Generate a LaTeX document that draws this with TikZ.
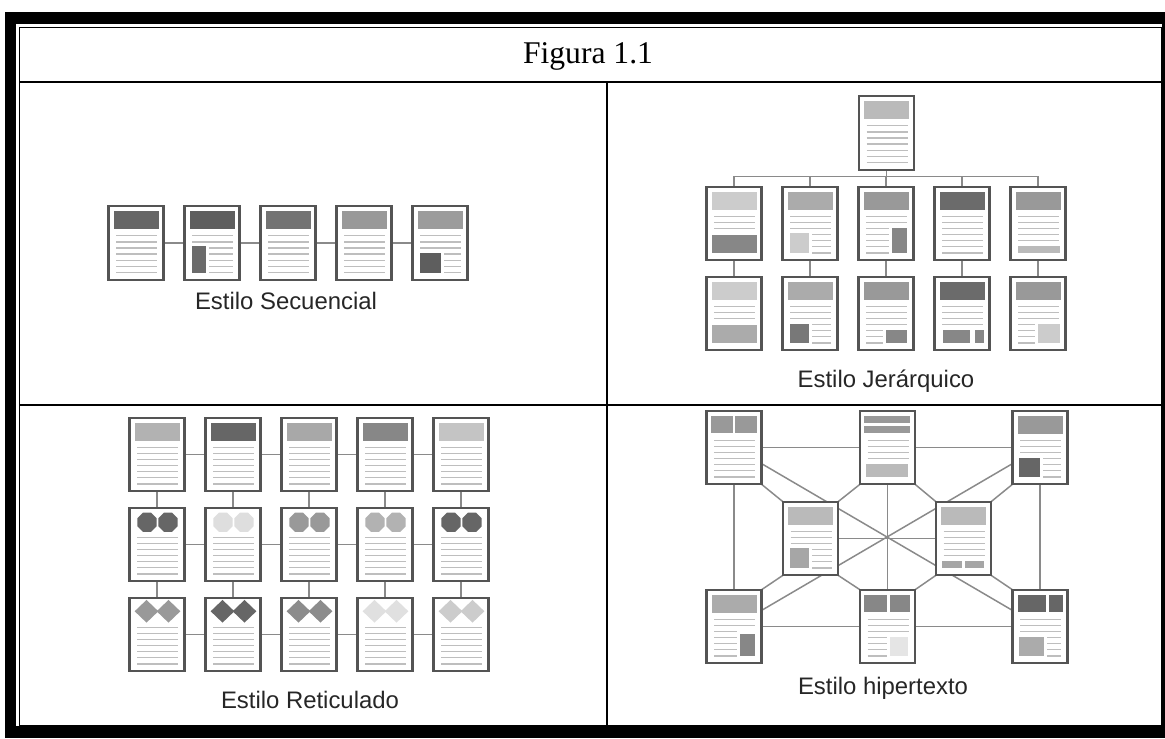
\documentclass[tikz,border=0pt]{standalone}
\usepackage{fontspec}
\setmainfont{Liberation Serif}
\setsansfont{Liberation Sans}
\usetikzlibrary{
    shapes.geometric,
    calc,
    backgrounds
}
\definecolor{colborde}{HTML}{545454}
\definecolor{colrenglon}{HTML}{BEBEBE}
\definecolor{colenlace}{HTML}{8A8A8A}
\tikzset{
    % Page sheet
    pagina/.style={
        rectangle,
        draw=colborde,
        fill=white,
        line width=1.3pt,
        minimum width=1.1cm,
        minimum height=1.47cm,
        inner sep=0pt,
        outer sep=0pt
    },
    % Text line inside a sheet
    renglon/.style={
        draw=colrenglon,
        line width=0.75pt
    },
    % Link between sheets
    enlace/.style={
        draw=colenlace,
        line width=0.85pt
    },
    % Shapes on the grid sheets
    octo/.style={
        regular polygon,
        regular polygon sides=8,
        minimum size=0.42cm,
        inner sep=0pt
    },
    rombo/.style={
        diamond,
        minimum width=0.48cm,
        minimum height=0.46cm,
        inner sep=0pt
    },
    % Table rules
    tabla/.style={
        draw=black,
        line width=1.1pt
    },
    % Texts
    titulo/.style={
        font=\rmfamily\fontsize{18}{22}\selectfont,
        anchor=base
    },
    rotulo/.style={
        font=\sffamily\fontsize{13.6}{16}\selectfont,
        text=black!85,
        anchor=base
    }
}
% sheet: name, position, header tone (or none)
\newcommand{\pagina}[3]{%
    \node[pagina] (#1) at (#2) {};
    \begin{scope}[shift={(#1.north west)}]
        \path[fill=#3] (5,5) rectangle (50,23);
        \foreach \k in {0,...,6}
            \draw[renglon] (7.5,{29.5+6.1*\k}) -- (48.5,{29.5+6.1*\k});
    \end{scope}}
% plain patch: sheet, x1, y1, x2, y2, tone
\newcommand{\mancha}[6]{%
    \begin{scope}[shift={(#1.north west)}]
        \fill[#6] (#2,#3) rectangle (#4,#5);
    \end{scope}}
% picture block, clears the lines round it first
\newcommand{\bloque}[6]{%
    \begin{scope}[shift={(#1.north west)}]
        \fill[white] (#2-3,#3-2.5) rectangle (#4+3,#5+2.5);
        \fill[#6] (#2,#3) rectangle (#4,#5);
    \end{scope}}
\newcommand{\octos}[2]{%
    \begin{scope}[shift={(#1.north west)}]
        \node[octo, fill=#2] at (17.5,14.5) {};
        \node[octo, fill=#2] at (38.5,14.5) {};
    \end{scope}}
\newcommand{\rombos}[2]{%
    \begin{scope}[shift={(#1.north west)}]
        \node[rombo, fill=#2] at (17,13.5) {};
        \node[rombo, fill=#2] at (39,13.5) {};
    \end{scope}}

\begin{document}
\begin{tikzpicture}[x=0.02cm, y=-0.02cm]
    \useasboundingbox (0,0) rectangle (1165,738);

    % Frame
    \fill[black] (5,12) rectangle (16,738);
    \fill[black] (5,12) rectangle (1165,24);
    \fill[black] (5,726) rectangle (1165,738);
    \draw[black, line width=1.7pt] (1163.5,24) -- (1163.5,726);
    \draw[tabla, line width=0.85pt] (19.3,27.3) rectangle (1162,726);
    \draw[tabla] (19,82) -- (1162,82);
    \draw[tabla] (19,405) -- (1162,405);
    \draw[tabla] (607,82) -- (607,726);
    \node[titulo] (titulo) at (588,63) {Figura 1.1};

    % Secuencial
    \pagina{s1}{136,243}{black!60}
    \pagina{s2}{212,243}{black!63}
    \bloque{s2}{7}{40}{21}{67}{black!58}
    \pagina{s3}{288,243}{black!55}
    \pagina{s4}{364,243}{black!40}
    \pagina{s5}{440,243}{black!39}
    \bloque{s5}{7}{47}{28}{67}{black!63}
    \begin{scope}[on background layer]
        \foreach \a/\b in {s1/s2, s2/s3, s3/s4, s4/s5}
            \draw[enlace] (\a) -- (\b);
    \end{scope}
    \node[rotulo] (lsec) at (286,309) {Estilo Secuencial};

    % Jerarquico
    \pagina{j0}{886.5,133}{black!27}
    \foreach \c/\tono in {1/black!20, 2/black!33, 3/black!40, 4/black!58, 5/black!40}
        \pagina{j1\c}{{734+76*(\c-1)},223.5}{\tono};
    \foreach \c/\tono in {1/black!20, 2/black!33, 3/black!40, 4/black!58, 5/black!40}
        \pagina{j2\c}{{734+76*(\c-1)},313.5}{\tono};
    \bloque{j11}{5}{48}{50}{66}{black!47}
    \bloque{j12}{7}{46}{26}{66}{black!20}
    \bloque{j13}{33}{41}{48}{66}{black!47}
    \bloque{j15}{7}{59}{49}{66}{black!27}
    \bloque{j21}{5}{48}{50}{66}{black!33}
    \bloque{j22}{7}{47}{26}{66}{black!53}
    \bloque{j23}{27}{53}{48}{66}{black!47}
    \bloque{j24}{8}{53}{35}{66}{black!47}
    \bloque{j24}{40}{53}{49}{66}{black!47}
    \bloque{j25}{27}{47}{49}{66}{black!20}
    \begin{scope}[on background layer]
        \foreach \c in {1,...,5} {
            \draw[enlace] (j0.south) -- ++(0,7) -| (j1\c.north);
            \draw[enlace] (j1\c) -- (j2\c);
        }
    \end{scope}
    \node[rotulo] (ljer) at (886,387) {Estilo Jerárquico};

    % Reticulado
    \foreach \c/\tono in {1/black!30, 2/black!60, 3/black!34, 4/black!47, 5/black!23}
        \pagina{r1\c}{{157+76*(\c-1)},454.5}{\tono};
    \foreach \c/\tono in {1/black!60, 2/black!13, 3/black!40, 4/black!30, 5/black!60} {
        \pagina{r2\c}{{157+76*(\c-1)},544.5}{none}
        \octos{r2\c}{\tono}
    }
    \foreach \c/\tono in {1/black!40, 2/black!60, 3/black!45, 4/black!12, 5/black!20} {
        \pagina{r3\c}{{157+76*(\c-1)},634.5}{none}
        \rombos{r3\c}{\tono}
    }
    \begin{scope}[on background layer]
        \foreach \f in {1,2,3}
            \foreach \a/\b in {1/2, 2/3, 3/4, 4/5}
                \draw[enlace] (r\f\a) -- (r\f\b);
        \foreach \c in {1,...,5}
            \foreach \a/\b in {1/2, 2/3}
                \draw[enlace] (r\a\c) -- (r\b\c);
    \end{scope}
    \node[rotulo] (lret) at (310,708) {Estilo Reticulado};

    % Hipertexto
    \pagina{h1}{734,447.5}{none}
    \mancha{h1}{4}{5}{26}{22}{black!40}
    \mancha{h1}{28}{5}{50}{22}{black!40}
    \pagina{h2}{887.5,447.5}{none}
    \mancha{h2}{4}{5}{50}{12}{black!40}
    \mancha{h2}{4}{15.5}{50}{22.5}{black!40}
    \bloque{h2}{6}{53}{48}{66.5}{black!27}
    \pagina{h3}{1040,447.5}{black!40}
    \bloque{h3}{6}{47}{27}{66.5}{black!60}
    \pagina{h4}{810.5,538.5}{black!27}
    \bloque{h4}{7}{46}{26}{66}{black!35}
    \pagina{h5}{963.5,538.5}{black!27}
    \bloque{h5}{6}{59}{26}{66}{black!35}
    \bloque{h5}{29}{59}{48}{66}{black!35}
    \pagina{h6}{734,626.5}{black!33}
    \bloque{h6}{33}{44}{48}{66}{black!47}
    \pagina{h7}{887.5,626.5}{none}
    \mancha{h7}{4}{5}{27}{22}{black!47}
    \mancha{h7}{30}{5}{50}{22}{black!47}
    \bloque{h7}{30}{47}{48}{66}{black!10}
    \pagina{h8}{1040,626.5}{none}
    \mancha{h8}{5}{5}{33}{22}{black!60}
    \mancha{h8}{36}{5}{50}{22}{black!60}
    \bloque{h8}{6}{47}{31}{66}{black!33}
    \begin{scope}[on background layer]
        \foreach \a/\b in {h1/h2, h2/h3, h6/h7, h7/h8, h1/h6, h2/h7, h3/h8, h4/h5, h1/h8, h3/h6}
            \draw[enlace] (\a.center) -- (\b.center);
        \draw[enlace] (h1.south east) -- (h4.north west);
        \draw[enlace] (h2.south west) -- (h4.north east);
        \draw[enlace] (h2.south east) -- (h5.north west);
        \draw[enlace] (h3.south west) -- (h5.north east);
        \draw[enlace] (h4.south west) -- (h6.north east);
        \draw[enlace] (h4.south east) -- (h7.north west);
        \draw[enlace] (h5.south west) -- (h7.north east);
        \draw[enlace] (h5.south east) -- (h8.north west);
    \end{scope}
    \node[rotulo] (lhip) at (883,694) {Estilo hipertexto};

\end{tikzpicture}
\end{document}
